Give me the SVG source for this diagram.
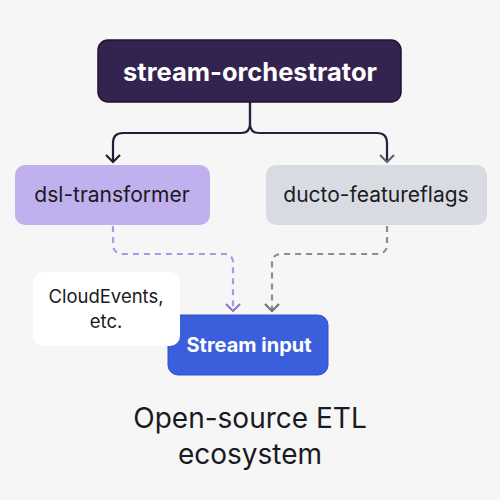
<svg xmlns="http://www.w3.org/2000/svg" width="500" height="500" viewBox="0 0 500 500">
<style>
.t{font-family:Inter,"Liberation Sans",sans-serif;text-anchor:middle}
.b{font-weight:700;fill:#fff}
.n{fill:#1a1a22}
</style>
<defs>
<marker id="aD" markerWidth="16" markerHeight="10" refX="8" refY="8" markerUnits="userSpaceOnUse" viewBox="0 0 16 10"><path d="M1,1 L8,8 L15,1" fill="none" stroke="#241a3a" stroke-width="2.2"/></marker>
<marker id="aG" markerWidth="16" markerHeight="10" refX="8" refY="8" markerUnits="userSpaceOnUse" viewBox="0 0 16 10"><path d="M1,1 L8,8 L15,1" fill="none" stroke="#5b6376" stroke-width="2.2"/></marker>
<marker id="aP" markerWidth="16" markerHeight="10" refX="8" refY="8" markerUnits="userSpaceOnUse" viewBox="0 0 16 10"><path d="M1,1 L8,8 L15,1" fill="none" stroke="#8c7cc8" stroke-width="2.2"/></marker>
<marker id="aS" markerWidth="16" markerHeight="10" refX="8" refY="8" markerUnits="userSpaceOnUse" viewBox="0 0 16 10"><path d="M1,1 L8,8 L15,1" fill="none" stroke="#6e727c" stroke-width="2.2"/></marker>
</defs>
<rect width="500" height="500" fill="#f6f6f6"/>
<g id="connectors" fill="none" stroke-width="2.2">
<path d="M250,102 V124 Q250,133 241,133 H123 Q113,133 113,143 V162" stroke="#241a3a" marker-end="url(#aD)"/>
<path d="M250,102 V124 Q250,133 259,133 H377 Q387,133 387,143 V162" stroke="#2a2140" marker-end="url(#aG)"/>
<path d="M113,226 V244 Q113,254 123,254 H224 Q233,254 233,263 V311" stroke="#a898e6" stroke-dasharray="6,5" marker-end="url(#aP)"/>
<path d="M387,226 V244 Q387,254 377,254 H282 Q272,254 272,263 V311" stroke="#8a8d96" stroke-dasharray="6,5" marker-end="url(#aS)"/>
</g>
<g id="stream-orchestrator">
<rect x="98" y="40" width="303" height="62" rx="10" fill="#35234f" stroke="#1d1430" stroke-width="1.5"/>
<text class="t b" x="250" y="81" font-size="25.5">stream-orchestrator</text>
</g>
<g id="dsl-transformer">
<rect x="15" y="165" width="195" height="60" rx="10" fill="#c0b0ee"/>
<text class="t n" x="112" y="202" font-size="21">dsl-transformer</text>
</g>
<g id="ducto-featureflags">
<rect x="266" y="165" width="221" height="60" rx="10" fill="#d9dbe3"/>
<text class="t n" x="376" y="202" font-size="21">ducto-featureflags</text>
</g>
<g id="stream-input">
<rect x="168" y="315" width="160" height="60" rx="10" fill="#3b5fdc" stroke="#2f52cc" stroke-width="1"/>
<text class="t b" x="249" y="352" font-size="20">Stream input</text>
</g>
<g id="cloudevents">
<rect x="33" y="272" width="147" height="74" rx="10" fill="#ffffff"/>
<text class="t n" x="106" y="303" font-size="18.5">CloudEvents,</text>
<text class="t n" x="106" y="328" font-size="18.5">etc.</text>
</g>
<g id="title">
<text class="t n" x="250" y="428" font-size="28">Open-source ETL</text>
<text class="t n" x="250" y="464" font-size="28">ecosystem</text>
</g>
</svg>
